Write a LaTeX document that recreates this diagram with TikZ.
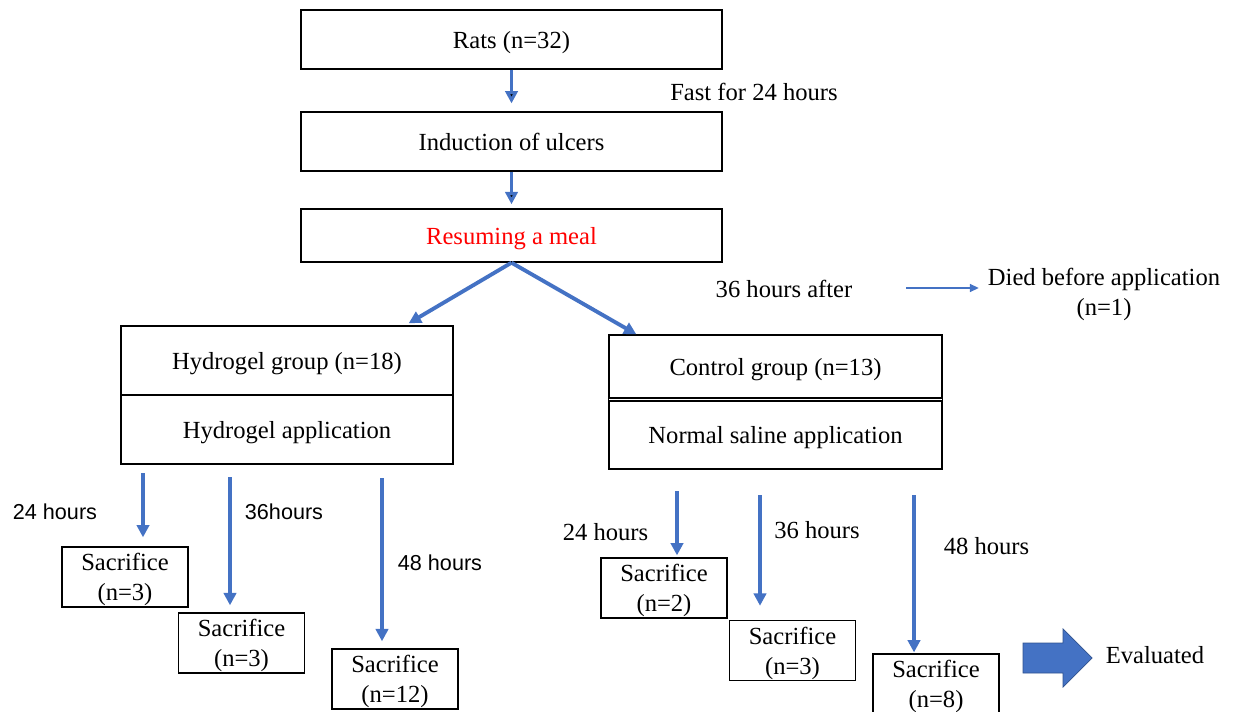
\documentclass[tikz,border=0pt]{standalone}
\usepackage{fontspec}
\setmainfont{Liberation Serif}
\newfontfamily\hrsfont{Liberation Sans}
\usetikzlibrary{calc, positioning, arrows.meta}
\definecolor{flowblue}{RGB}{68,114,196}
\definecolor{flowedge}{RGB}{47,82,143}

\begin{document}
\begin{tikzpicture}[x=0.02cm, y=-0.02cm, font=\fontsize{14pt}{17pt}\selectfont,
	box/.style={draw, line width=0.8pt, inner sep=0pt, align=center, text depth=0pt},
	widebox/.style={box, minimum width=8.42cm, minimum height=1.18cm},
	sbox/.style={box, minimum width=2.52cm, minimum height=1.2cm},
	lbl/.style={inner sep=1pt, align=center},
	hrs/.style={lbl, font=\hrsfont\fontsize{12.3pt}{15pt}\selectfont},
	flow/.style={draw=flowblue, line width=2.2pt, -{Triangle[width=7pt,length=7pt]}},
	thinflow/.style={draw=flowblue, line width=0.85pt, -{Triangle[width=4.5pt,length=5pt]}}]
	\useasboundingbox (0,0) rectangle (1239,712);

	\node (rats) [widebox] at (511.5,39.5) {Rats (n=32)};
	\node (ind) [widebox] at (511.5,141.5) {Induction of ulcers};
	\node (meal) [widebox, minimum height=1.06cm, text=red] at (511.5,235.5) {Resuming a meal};
	\node (fast) [lbl] at (754,92) {Fast for 24 hours};
	\path[flow, shorten >=4.5pt] (rats) edge (ind);
	\path[flow, shorten >=2.3pt] (ind) edge (meal);

	\node (after) [lbl] at (784,289) {36 hours after};
	\node (died) [lbl] at (1104,294.5) {Died before application\\(n=1)};
	\coordinate (dstart) at (906,288);
	\draw[thinflow, shorten >=4pt] (dstart) -- (died.west |- dstart);

	% hydrogel group
	\node (hydtop) [box, minimum width=6.64cm, minimum height=1.38cm] at (287,360.5) {Hydrogel group (n=18)};
	\node (hydbot) [box, minimum width=6.64cm, minimum height=1.38cm] at (287,429.5) {Hydrogel application};
	\draw[flow] (meal.south) -- ($(hydtop.north east)+(-45,-2)$);

	% control group
	\node (ctltop) [box, minimum width=6.66cm, minimum height=1.26cm] at (775.5,366.5) {Control group (n=13)};
	\node (ctlbot) [box, minimum width=6.66cm, minimum height=1.36cm] at (775.5,435) {Normal saline application};
	\draw[line width=0.8pt] (ctltop.south west) -- (ctlbot.north west)
	                        (ctltop.south east) -- (ctlbot.north east);
	\draw[flow] (meal.south) -- ($(ctltop.north west)+(28,0)$);

	\node (hs1) [sbox] at (125,577) {Sacrifice\\(n=3)};
	\node (hs2) [sbox] at (241.5,643) {Sacrifice\\(n=3)};
	\node (hs3) [sbox] at (395,679) {Sacrifice\\(n=12)};
	\node (h24) [hrs] at (55,512) {24 hours};
	\node (h36) [hrs] at (284,512) {36hours};
	\node (h48) [hrs] at (440,563) {48 hours};
	\coordinate (ha) at (143,473);
	\coordinate (hb) at (230,477);
	\coordinate (hc) at (382,478);
	\draw[flow, shorten >=5.1pt] (ha) -- (ha |- hs1.north);
	\draw[flow, shorten >=4pt] (hb) -- (hb |- hs2.north);
	\draw[flow, shorten >=4pt] (hc) -- (hc |- hs3.north);

	\node (cs1) [sbox] at (664,588) {Sacrifice\\(n=2)};
	\node (cs2) [sbox] at (792.5,650.5) {Sacrifice\\(n=3)};
	\node (cs3) [sbox] at (936,684) {Sacrifice\\(n=8)};
	\node (c24) [lbl] at (605.5,532) {24 hours};
	\node (c36) [lbl] at (817,530) {36 hours};
	\node (c48) [lbl] at (986.5,546) {48 hours};
	\coordinate (ca) at (677,491);
	\coordinate (cb) at (760,495);
	\coordinate (cc) at (914,495);
	\draw[flow, shorten >=1.1pt] (ca) -- (ca |- cs1.north);
	\draw[flow, shorten >=8pt] (cb) -- (cb |- cs2.north);
	\draw[flow, shorten >=0.5pt] (cc) -- (cc |- cs3.north);

	\fill[flowblue, draw=flowedge, line width=0.4pt] (1023,643) -- (1063,643) -- (1063,629) -- (1092,658)
	     -- (1063,687) -- (1063,673) -- (1023,673) -- cycle;
	\node (eval) [lbl] at (1155,655) {Evaluated};
\end{tikzpicture}
\end{document}
